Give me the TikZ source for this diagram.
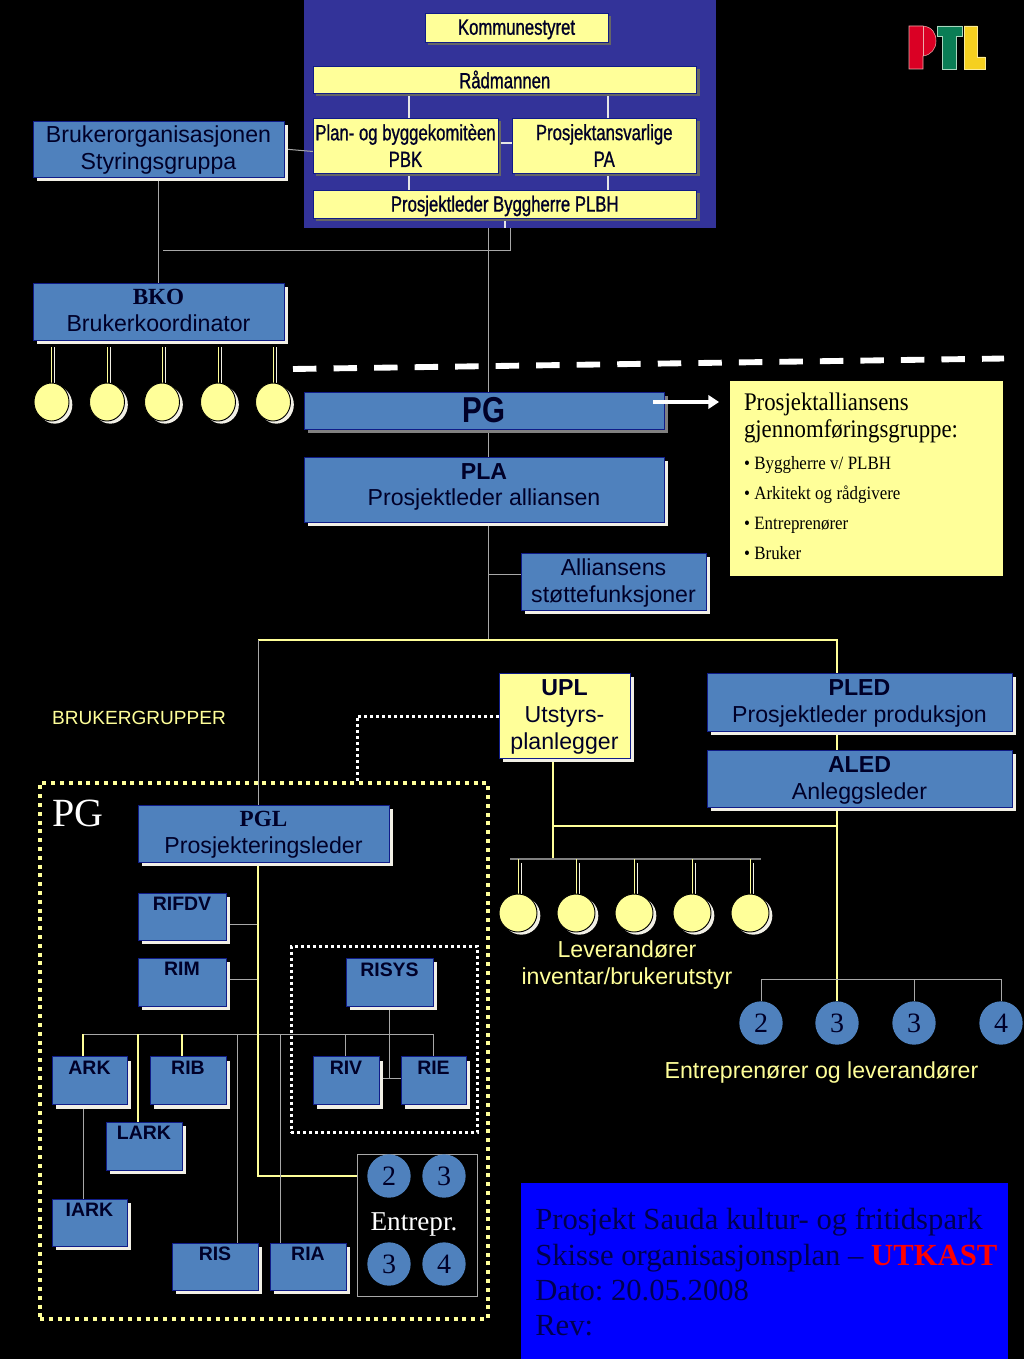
\documentclass[tikz,border=0pt]{standalone}
\usepackage{fontspec}
\usetikzlibrary{shapes.geometric,shadows,arrows.meta}
\setmainfont{Liberation Sans}
\newfontfamily\serifface{Liberation Serif}
\newfontfamily\narrowface[FakeStretch=0.76,FakeBold=1]{Liberation Sans}
\newfontfamily\narrowbold[FakeStretch=0.82]{Liberation Sans Bold}
\newfontfamily\slimserif[FakeStretch=0.9]{Liberation Serif}
\definecolor{navyback}{HTML}{333399}
\definecolor{boxblue}{HTML}{4F81BD}
\definecolor{edgeblue}{HTML}{101C88}
\definecolor{paleyellow}{HTML}{FFFF99}
\definecolor{inkdark}{HTML}{000028}
\definecolor{offwhite}{HTML}{F2F0E6}
\definecolor{wire}{HTML}{A8A8A8}
\definecolor{titleink}{HTML}{000050}
\pgfdeclarelayer{backdrop}
\pgfdeclarelayer{wires}
\pgfsetlayers{backdrop,wires,main}
\tikzset{
  box/.style={rectangle,inner sep=0pt,outer sep=0pt,align=center,text=inkdark,draw=edgeblue,line width=.7pt},
  bluebox/.style={box,fill=boxblue,font=\fontsize{17.35}{20.2}\selectfont,
    drop shadow={shadow xshift=3pt,shadow yshift=-3pt,opacity=1,fill=offwhite}},
  smallbox/.style={bluebox,font=\fontsize{14.6}{17}\selectfont\bfseries,text depth=2.2pt},
  yellowbox/.style={box,fill=paleyellow,font=\fontsize{16.5}{20}\selectfont\narrowface,
    drop shadow={shadow xshift=2.5pt,shadow yshift=-2.5pt,opacity=1,fill=black!60}},
  uplbox/.style={box,fill=paleyellow,font=\fontsize{17.35}{20.2}\selectfont,
    drop shadow={shadow xshift=3pt,shadow yshift=-3pt,opacity=1,fill=offwhite}},
  lamp/.style={ellipse,inner sep=0pt,outer sep=0pt,fill=paleyellow,draw=black,line width=.7pt,
    minimum width=#1*.75pt,minimum height=28.5pt,
    drop shadow={shadow xshift=2.5pt,shadow yshift=-2pt,opacity=1,fill=offwhite}},
  token/.style={circle,inner sep=0pt,outer sep=0pt,fill=boxblue,minimum size=32.5pt,text=inkdark,
    font=\fontsize{21}{23}\selectfont\serifface},
  greyline/.style={draw=wire,line width=.75pt},
  whiteline/.style={draw=white!90!black,line width=.8pt},
  yellowline/.style={draw=paleyellow,line width=.9pt},
  hanger/.style={draw=paleyellow,line width=.75pt},
  hangershade/.style={draw=offwhite,line width=.75pt},
  pgframestyle/.style={rectangle,inner sep=0pt,outer sep=0pt,line width=3pt,dash pattern=on 3pt off 3.6pt,draw=paleyellow},
  sysframestyle/.style={rectangle,inner sep=0pt,outer sep=0pt,line width=2.25pt,dash pattern=on 2.25pt off 2.25pt,draw=white},
  captionyellow/.style={text=paleyellow,align=center,font=\fontsize{17.35}{20.2}\selectfont},
}
% Places a node by its corner coordinates, given in a top-left pixel grid.
\newcommand{\placebox}[7]{%
  \node[#6,minimum width={(#4-#2)*.75pt},minimum height={(#5-#3)*.75pt}] (#1) at ({(#2+#4)/2},{(#3+#5)/2}) {#7};}
\frenchspacing
\begin{document}
\begin{tikzpicture}[x=.75pt,y=-.75pt]
\useasboundingbox (0,0) rectangle (1024,1359);
\begin{pgfonlayer}{backdrop}
  \fill[black] (0,0) rectangle (1024,1359);
  \node[rectangle,inner sep=0pt,outer sep=0pt,fill=navyback,minimum width=309pt,minimum height=171pt] (navy) at (510,114) {};
\end{pgfonlayer}

% Municipal organisation
\placebox{kom}{425}{13}{608}{42}{yellowbox,text depth=.5pt}{Kommunestyret}
\placebox{rad}{313}{66}{696.5}{93}{yellowbox}{Rådmannen}
\placebox{pbk}{313}{118}{498}{173}{yellowbox}{Plan- og byggekomitèen\\PBK}
\placebox{pa}{512}{118}{696.5}{173}{yellowbox}{Prosjektansvarlige\\PA}
\placebox{plbh}{313}{190}{696.5}{218}{yellowbox,text depth=.5pt}{Prosjektleder Byggherre PLBH}

% User side
\placebox{bruk}{33}{121}{284}{177}{bluebox,text depth=2.1pt}{Brukerorganisasjonen\\Styringsgruppa}
\placebox{bko}{33}{283}{284}{340}{bluebox,text depth=1.4pt}{{\serifface\bfseries BKO}\\Brukerkoordinator}
\node[lamp=35] (lampA) at (51.5,402) {};
\node[lamp=35] (lampB) at (107,402) {};
\node[lamp=35] (lampC) at (162,402) {};
\node[lamp=35] (lampD) at (218,402) {};
\node[lamp=35] (lampE) at (273,402) {};

% Alliance
\placebox{pg}{304}{392}{664}{429}{box,fill=boxblue,font=\fontsize{27}{30}\selectfont\narrowbold,drop shadow={shadow xshift=3pt,shadow yshift=-3pt,opacity=1,fill=black!50}}{PG}
\placebox{pla}{304}{457}{664}{522}{bluebox,text depth=7.4pt}{\textbf{PLA}\\Prosjektleder alliansen}
\placebox{stotte}{521}{553}{706}{610}{bluebox,text depth=1.2pt}{Alliansens\\støttefunksjoner}
\node[rectangle,anchor=north west,inner xsep=10.5pt,inner ysep=0pt,outer sep=0pt,fill=paleyellow,
      minimum height=146.25pt,text width=184pt,align=left,text=black] (info) at (730,381)
  {\parindent=0pt\slimserif
   {\fontsize{19}{20.25}\selectfont Prosjektalliansens\par gjennomføringsgruppe:\par}
   \fontsize{14.1}{16.9}\selectfont
   \vspace{7.1pt}• Byggherre v/ PLBH\par
   \vspace{5.6pt}• Arkitekt og rådgivere\par
   \vspace{5.6pt}• Entreprenører\par
   \vspace{5.6pt}• Bruker\par
   \vspace*{4pt}};
\coordinate (arrowTail) at (653,402);
\coordinate (arrowTip) at (719,402);
\draw[white,line width=2.4pt,-{Triangle[length=8pt,width=10pt]}] (arrowTail) -- (arrowTip);

% Production side
\placebox{upl}{499}{673}{630}{758}{uplbox,text depth=1.4pt}{\textbf{UPL}\\Utstyrs-\\planlegger}
\placebox{pled}{707}{673}{1012}{731}{bluebox,text depth=1.4pt}{\textbf{PLED}\\Prosjektleder produksjon}
\placebox{aled}{707}{750}{1012}{807}{bluebox,text depth=1.4pt}{\textbf{ALED}\\Anleggsleder}
\node[lamp=38] (levA) at (518,913) {};
\node[lamp=38] (levB) at (576,913) {};
\node[lamp=38] (levC) at (634,913) {};
\node[lamp=38] (levD) at (692,913) {};
\node[lamp=38] (levE) at (750,913) {};
\node[captionyellow] (levtext) at (627,965) {Leverandører\\inventar/brukerutstyr};
\node[token] (ctA) at (761,1023) {2};
\node[token] (ctB) at (837,1023) {3};
\node[token] (ctC) at (914,1023) {3};
\node[token] (ctD) at (1001,1023) {4};
\node[captionyellow] (enttext) at (821.5,1073) {Entreprenører og leverandører};
\node[text=paleyellow,font=\fontsize{14.3}{16}\selectfont] (brukergr) at (139,717.5) {BRUKERGRUPPER};

% Design group
\placebox{pgframe}{40}{783}{488}{1319}{pgframestyle}{}
\node[text=white,font=\fontsize{30}{32}\selectfont\serifface] (pgtitle) at (78,813) {PG};
\placebox{pgl}{138}{805}{389}{862}{bluebox,text depth=1.4pt}{{\serifface\bfseries PGL}\\Prosjekteringsleder}
\placebox{rifdv}{138}{893}{226}{940}{smallbox}{RIFDV\\\mbox{}}
\placebox{rim}{138}{958}{226}{1006}{smallbox}{RIM\\\mbox{}}
\placebox{risysframe}{291}{946}{477}{1132.5}{sysframestyle}{}
\placebox{risys}{346}{958}{433}{1006}{smallbox}{RISYS\\\mbox{}}
\placebox{ark}{52}{1056.5}{127}{1104.5}{smallbox}{ARK\\\mbox{}}
\placebox{rib}{150}{1056.5}{226}{1104.5}{smallbox}{RIB\\\mbox{}}
\placebox{riv}{313}{1056.5}{379}{1104.5}{smallbox}{RIV\\\mbox{}}
\placebox{rie}{401}{1056.5}{466}{1104.5}{smallbox}{RIE\\\mbox{}}
\placebox{lark}{106}{1122}{182}{1170}{smallbox}{LARK\\\mbox{}}
\placebox{iark}{52}{1199}{127}{1246}{smallbox}{IARK\\\mbox{}}
\placebox{ris}{172}{1243}{258}{1290}{smallbox}{RIS\\\mbox{}}
\placebox{ria}{270}{1243}{346}{1290}{smallbox}{RIA\\\mbox{}}
\placebox{entbox}{357}{1154}{477}{1296}{rectangle,inner sep=0pt,outer sep=0pt,draw=wire,line width=.7pt}{}
\node[token] (egA) at (389,1176) {2};
\node[token] (egB) at (444,1176) {3};
\node[token] (egC) at (389,1264) {3};
\node[token] (egD) at (444,1264) {4};
\node[text=white,font=\fontsize{20.4}{22}\selectfont\serifface] (egtext) at (414,1224.5) {Entrepr.};

% Title block
\placebox{title}{521}{1183}{1008}{1359}{rectangle,inner sep=0pt,outer sep=0pt,fill=blue}{}
\node[anchor=west,inner sep=0pt,align=left,text=titleink,
      font=\fontsize{23}{26.3}\selectfont\serifface] (titletext) at (535,1272)
  {Prosjekt Sauda kultur- og fritidspark\\Skisse organisasjonsplan – \textcolor{red}{\textbf{UTKAST}}\\Dato: 20.05.2008\\Rev:};

% Boundary between client side and alliance
\coordinate (limitL) at (293,369);
\coordinate (limitR) at (1004,358.5);
\draw[white,line width=4.4pt,dash pattern=on 17.6pt off 12.8pt] (limitL) -- (limitR);

% PTL logo
\draw[fill={rgb,255:red,218;green,0;blue,36},draw={rgb,255:red,235;green,170;blue,170},line width=.4pt]
  (909,26) -- (923,26) .. controls (932,27) and (936,33) .. (936,41) .. controls (936,49) and (931,55) .. (923,56) -- (923,69) -- (909,69) -- cycle;
\draw[draw={rgb,255:red,235;green,170;blue,170},line width=.4pt] (923,26) -- (923,56);
\draw[fill={rgb,255:red,10;green,125;blue,85},draw={rgb,255:red,170;green,215;blue,190},line width=.4pt]
  (937,26) -- (962,26) -- (962,36) -- (956,36) -- (956,69) -- (942,69) -- (942,36) -- (937,36) -- cycle;
\draw[fill={rgb,255:red,245;green,208;blue,32},draw={rgb,255:red,250;green,235;blue,150},line width=.4pt]
  (964,26) -- (977,26) -- (977,57) -- (985,57) -- (985,69) -- (964,69) -- cycle;

\begin{pgfonlayer}{wires}
  \coordinate (colLeft) at (409,0);
  \coordinate (colRight) at (608,0);
  \coordinate (colPlbh) at (505,0);
  \coordinate (colStub) at (510,0);
  \coordinate (hub) at (488,640);
  \coordinate (dropPgl) at (258,640);
  \coordinate (dropProd) at (837,640);
  \coordinate (supportTap) at (488,574);
  \coordinate (userBus) at (163,250);
  % Municipal links
  \draw[whiteline] (rad.south -| colLeft) -- (pbk.north -| colLeft);
  \draw[whiteline] (rad.south -| colRight) -- (pa.north -| colRight);
  \draw[whiteline] (pbk.south -| colLeft) -- (plbh.north -| colLeft);
  \draw[whiteline] (pa.south -| colRight) -- (plbh.north -| colRight);
  \draw[whiteline,line width=1.2pt] ([yshift=2pt]pbk.east) -- ([yshift=2pt]pa.west);
  \draw[whiteline] (plbh.south -| colPlbh) -- (navy.south -| colPlbh);
  \draw[greyline] (bruk.east) -- ([yshift=-4.5pt]pbk.west);
  \draw[greyline] (bruk.south) -- (bko.north);
  \draw[greyline] (userBus) -| (navy.south -| colStub);
  % Spine through the alliance
  \draw[greyline] (navy.south -| hub) -- (pg.north -| hub);
  \draw[greyline] (pg.south -| hub) -- (pla.north -| hub);
  \draw[greyline] (pla.south -| hub) -- (hub);
  \draw[greyline] (supportTap) -- (stotte.west |- supportTap);
  \draw[yellowline] (dropPgl) -- (dropProd) -- (pled.north -| dropProd);
  \draw[greyline] (dropPgl) -- (pgl.north -| dropPgl);
  \draw[yellowline] (pled.south -| dropProd) -- (aled.north -| dropProd);
  % Production branch
  \coordinate (prodBus) at (837,826);
  \coordinate (uplCol) at (553,826);
  \coordinate (levBus) at (553,859);
  \coordinate (levBusL) at (510,859);
  \coordinate (levBusR) at (761,859);
  \coordinate (entBus) at (837,979);
  \draw[yellowline] (aled.south -| prodBus) -- (ctB.north);
  \draw[yellowline] (prodBus) -- (uplCol);
  \draw[yellowline] (upl.south -| uplCol) -- (levBus);
  \draw[draw=gray,line width=.9pt] (levBusL) -- (levBusR);
  \draw[greyline] (ctA.north |- entBus) -- (ctD.north |- entBus);
  \draw[greyline] (ctA.north |- entBus) -- (ctA.north);
  \draw[greyline] (ctC.north |- entBus) -- (ctC.north);
  \draw[greyline] (ctD.north |- entBus) -- (ctD.north);
  % Lamp hangers
  \coordinate (hangTop) at (0,347);
  \foreach \n in {lampA,lampB,lampC,lampD,lampE}{
    \draw[hangershade] ([xshift=2.6pt]\n.north |- hangTop) -- ([xshift=2.6pt]\n.north);
    \draw[hanger] (\n.north |- hangTop) -- (\n.north);
  }
  \coordinate (levTop) at (0,859);
  \foreach \n in {levA,levB,levC,levD,levE}{
    \draw[hangershade] ([xshift=2.6pt,yshift=-3pt]\n.north |- levTop) -- ([xshift=2.6pt]\n.north);
    \draw[hanger] (\n.north |- levTop) -- (\n.north);
  }
  % UPL link into the design group
  \coordinate (uplDrop) at (357,716);
  \draw[white,line width=2.25pt,dash pattern=on 2.25pt off 2.25pt] (upl.west |- uplDrop) -- (uplDrop) -- (uplDrop |- pgframe.north);
  % Design group wiring
  \coordinate (dgBus) at (83,1034);
  \coordinate (dgBusR) at (433,1034);
  \coordinate (colLark) at (138,0);
  \coordinate (colRib) at (182,0);
  \coordinate (colRis) at (237,0);
  \coordinate (colRia) at (280,0);
  \coordinate (colRiv) at (345,0);
  \coordinate (colSys) at (389,0);
  \coordinate (tapFdv) at (258,924.5);
  \coordinate (tapRim) at (258,979);
  \coordinate (sysTee) at (389,1078);
  \draw[greyline] (dgBus) -- (dgBusR);
  \draw[greyline] (tapFdv) -- (rifdv.east |- tapFdv);
  \draw[greyline] (tapRim) -- (rim.east |- tapRim);
  \draw[yellowline] (pgl.south -| dropPgl) |- (egA -| entbox.west);
  \draw[yellowline] (ark.north -| dgBus) -- (dgBus);
  \draw[yellowline] (lark.north -| colLark) -- (dgBus -| colLark);
  \draw[yellowline] (rib.north -| colRib) -- (dgBus -| colRib);
  \draw[greyline] (ris.north -| colRis) -- (dgBus -| colRis);
  \draw[greyline] (ria.north -| colRia) -- (dgBus -| colRia);
  \draw[greyline] (riv.north -| colRiv) -- (dgBus -| colRiv);
  \draw[greyline] (rie.north -| dgBusR) -- (dgBusR);
  \draw[greyline] (ark.south -| dgBus) -- (iark.north -| dgBus);
  \draw[greyline] (risys.south -| colSys) -- (sysTee);
  \draw[greyline] (riv.east |- sysTee) -- (rie.west |- sysTee);
\end{pgfonlayer}
\end{tikzpicture}
\end{document}
